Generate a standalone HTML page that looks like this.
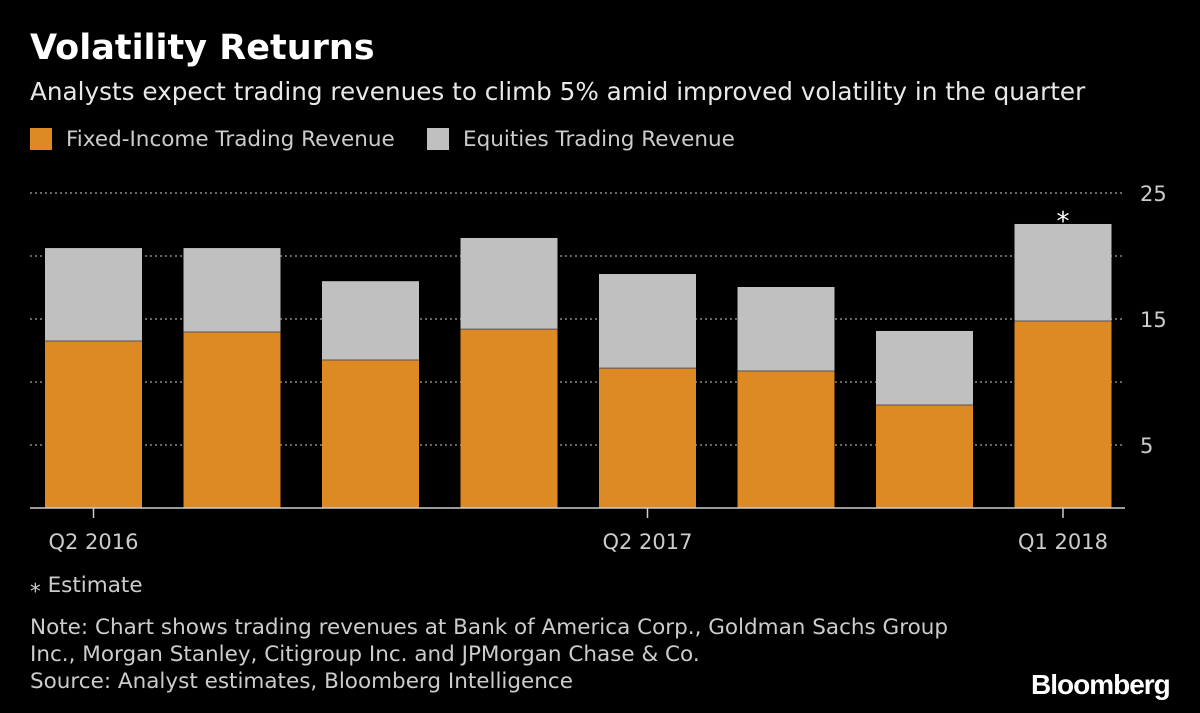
<!DOCTYPE html>
<html><head><meta charset="utf-8"><style>
body{margin:0;background:#000;width:1200px;height:713px;overflow:hidden;font-family:"DejaVu Sans","Liberation Sans",sans-serif;color:#fff}
.t{position:absolute;white-space:nowrap}
</style></head><body>
<div class="t" style="left:30px;top:28px;font-size:35px;font-weight:bold">Volatility Returns</div>
<div class="t" style="left:30px;top:77px;font-size:24.7px;color:#e8e8e8">Analysts expect trading revenues to climb 5% amid improved volatility in the quarter</div>
<div class="t" style="left:30px;top:127px;font-size:21.5px;color:#ccc"><span style="display:inline-block;width:22px;height:22px;background:#dd8a24;vertical-align:-4px;margin-right:14px"></span>Fixed-Income Trading Revenue</div>
<div class="t" style="left:427px;top:127px;font-size:21.5px;color:#ccc"><span style="display:inline-block;width:22px;height:22px;background:#c0c0c0;vertical-align:-4px;margin-right:14px"></span>Equities Trading Revenue</div>
<svg id="chart" width="1200" height="713" style="position:absolute;left:0;top:0;font-family:'DejaVu Sans',sans-serif"></svg>
<div class="t" style="left:30px;top:573px;font-size:21.5px;color:#ccc">⁎ Estimate</div>
<div class="t" style="left:30px;top:614px;font-size:21.5px;color:#ccc;line-height:27px">Note: Chart shows trading revenues at Bank of America Corp., Goldman Sachs Group<br>Inc., Morgan Stanley, Citigroup Inc. and JPMorgan Chase &amp; Co.<br>Source: Analyst estimates, Bloomberg Intelligence</div>
<div class="t" style="left:1031px;top:669px;font-size:28px;font-weight:bold;letter-spacing:-1px;font-family:'Liberation Sans',sans-serif">Bloomberg</div>
<script>
const categories=["Q2 2016","Q3 2016","Q4 2016","Q1 2017","Q2 2017","Q3 2017","Q4 2017","Q1 2018"];
const fixedIncome=[13.25,13.97,11.75,14.2,11.1,10.87,8.17,14.84];
const equities=[7.38,6.66,6.25,7.23,7.47,6.67,5.88,7.7];
const yTicks=[5,15,25];
const xLabels=["Q2 2016","Q2 2017","Q1 2018"];
const svg=document.getElementById('chart');
const NS='http://www.w3.org/2000/svg';
const y0=508,pxPer=12.6;
const y=v=>y0-v*pxPer;
const x=i=>45+i*138.5;
const bw=97;
function mk(t,a){const e=document.createElementNS(NS,t);for(const k in a)e.setAttribute(k,a[k]);svg.appendChild(e);return e;}
for(let v=5;v<=25;v+=5){const g=mk('line',{x1:30,x2:1125,y1:y(v),y2:y(v),stroke:'#888','stroke-width':1.5,'stroke-dasharray':'2,3'});

}
yTicks.forEach(v=>{const t=mk('text',{x:1140,y:y(v)+8,fill:'#ccc','font-size':21});t.textContent=v;

});
categories.forEach((c,i)=>{
const f=mk('rect',{x:x(i),y:y(fixedIncome[i]),width:bw,height:fixedIncome[i]*pxPer,fill:'#dd8a24'});


const tot=fixedIncome[i]+equities[i];
const e=mk('rect',{x:x(i),y:y(tot),width:bw,height:equities[i]*pxPer,fill:'#c0c0c0'});


const s=mk('line',{x1:x(i),x2:x(i)+bw,y1:y(fixedIncome[i]),y2:y(fixedIncome[i]),stroke:'#555','stroke-width':1});


const li=xLabels.indexOf(c);
if(li>=0){const tk=mk('line',{x1:x(i)+bw/2,x2:x(i)+bw/2,y1:y0,y2:y0+10,stroke:'#ccc','stroke-width':1.5});


const t=mk('text',{x:x(i)+bw/2,y:y0+41,fill:'#ccc','font-size':21,'text-anchor':'middle'});t.textContent=c;

}
if(i===categories.length-1){const a=mk('text',{x:x(i)+bw/2,y:y(tot)-2,fill:'#fff','font-size':26,'text-anchor':'middle'});a.textContent='⁎';

}
});
const ax=mk('line',{x1:30,x2:1125,y1:y0,y2:y0,stroke:'#ccc','stroke-width':1.5});


</script>
</body></html>
